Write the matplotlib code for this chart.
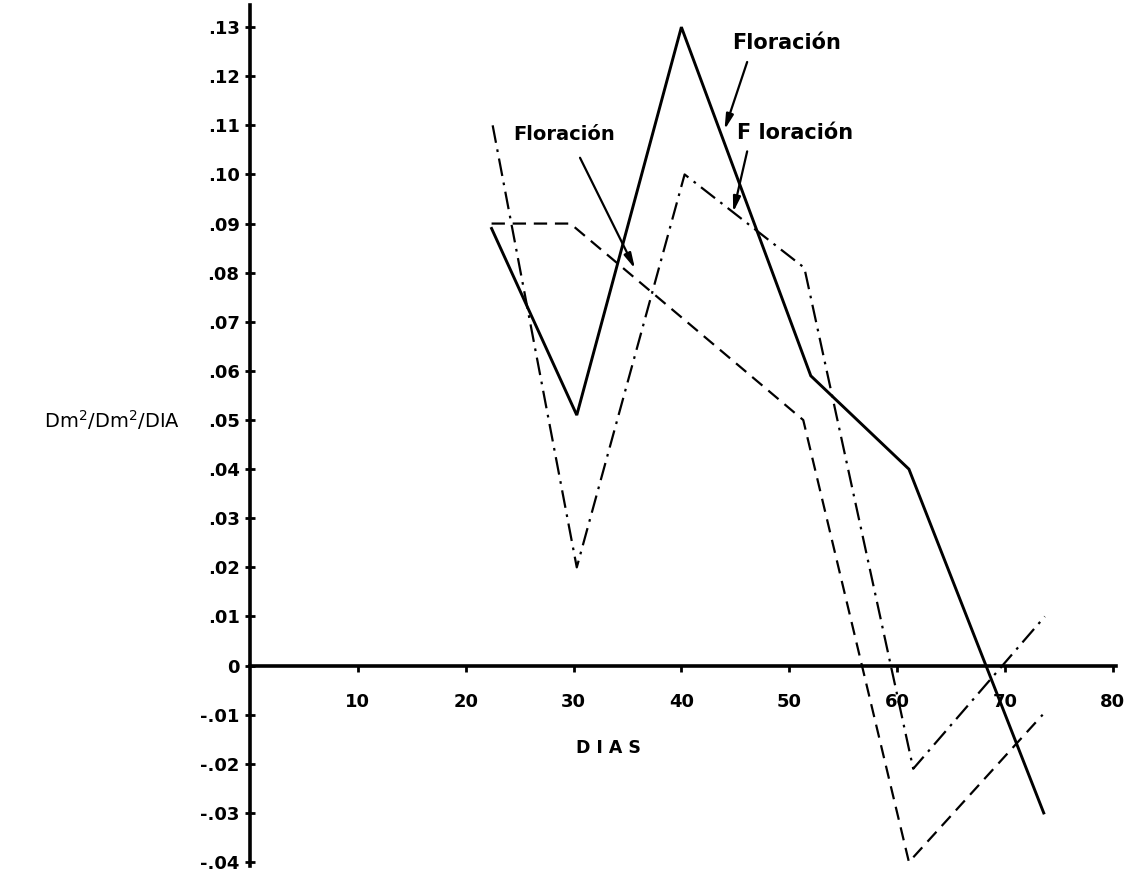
import matplotlib
matplotlib.use("Agg")
import matplotlib.pyplot as plt

# ---- data ----
solid_x = [22.4, 30.3, 40.0, 52.0, 61.1, 73.6]
solid_y = [0.089, 0.051, 0.130, 0.059, 0.040, -0.030]

dashdot_x = [22.5, 30.3, 40.3, 51.4, 61.5, 73.7]
dashdot_y = [0.110, 0.020, 0.100, 0.081, -0.021, 0.010]

dashed_x = [22.4, 29.7, 51.3, 61.1, 73.5]
dashed_y = [0.090, 0.090, 0.050, -0.040, -0.010]

x_ticks = [10, 20, 30, 40, 50, 60, 70, 80]
x_ticklabels = ["10", "20", "30", "40", "50", "60", "70", "80"]
y_ticks = [0.13, 0.12, 0.11, 0.10, 0.09, 0.08, 0.07, 0.06, 0.05, 0.04, 0.03,
           0.02, 0.01, 0.0, -0.01, -0.02, -0.03, -0.04]
y_ticklabels = [".13", ".12", ".11", ".10", ".09", ".08", ".07", ".06", ".05",
                ".04", ".03", ".02", ".01", "0", "-.01", "-.02", "-.03", "-.04"]

# annotations: text, text position, arrow tail, arrow head, font size
notes_text = ["Floración", "F loración", "Floración"]
notes_txy = [(44.7, 0.1267), (45.2, 0.1085), (24.4, 0.1081)]
notes_tail = [(46.1, 0.1229), (46.1, 0.1047), (30.6, 0.1034)]
notes_head = [(44.0, 0.1091), (44.8, 0.0923), (35.7, 0.0808)]
notes_size = [15, 15, 14]

W, H = 1135, 874
fig = plt.figure(figsize=(W / 100, H / 100), dpi=100)
fig.patch.set_facecolor("white")
ax = fig.add_axes([250 / W, 1 - 866 / H, (1116 - 250) / W, (866 - 5) / H])
ax.set_facecolor("white")

ax.plot(solid_x, solid_y, color="black", lw=2.1, solid_joinstyle="miter")
ax.plot(dashdot_x, dashdot_y, color="black", lw=1.6,
        linestyle=(0, (8, 3, 1.2, 3)))
ax.plot(dashed_x, dashed_y, color="black", lw=1.6, linestyle=(0, (6, 3.5)))

ax.set_xlim(0, 80.3)
ax.set_ylim(-0.0408, 0.1345)

for s in ["top", "right"]:
    ax.spines[s].set_visible(False)
ax.spines["bottom"].set_position(("data", 0))
ax.spines["left"].set_position(("data", 0))
ax.spines["bottom"].set_linewidth(2.6)
ax.spines["left"].set_linewidth(2.6)

ax.set_xticks(x_ticks)
ax.set_xticklabels(x_ticklabels, fontsize=13, fontweight="bold")
ax.set_yticks(y_ticks)
ax.set_yticklabels(y_ticklabels, fontsize=13, fontweight="bold")
ax.tick_params(axis="x", direction="out", length=4, width=2, pad=16)
ax.tick_params(axis="y", direction="inout", length=7, width=2, pad=4)

# x label
fig.text(608 / W, 1 - 748 / H, "D I A S", fontsize=12.5, fontweight="bold",
         ha="center", va="center")
# y label
fig.text(180 / W, 1 - 420 / H, r"Dm$^{2}$/Dm$^{2}$/DIA", fontsize=14,
         ha="right", va="center")

for txt, txy, tail, head, sz in zip(notes_text, notes_txy, notes_tail,
                                     notes_head, notes_size):
    ax.text(txy[0], txy[1], txt, fontsize=sz, fontweight="bold",
            ha="left", va="center")
    ax.annotate("", xy=head, xytext=tail,
                arrowprops=dict(arrowstyle="-|>,head_length=0.9,head_width=0.22",
                                color="black", lw=1.6, shrinkA=0, shrinkB=0))

fig.savefig("out.png", dpi=100, facecolor="white")
